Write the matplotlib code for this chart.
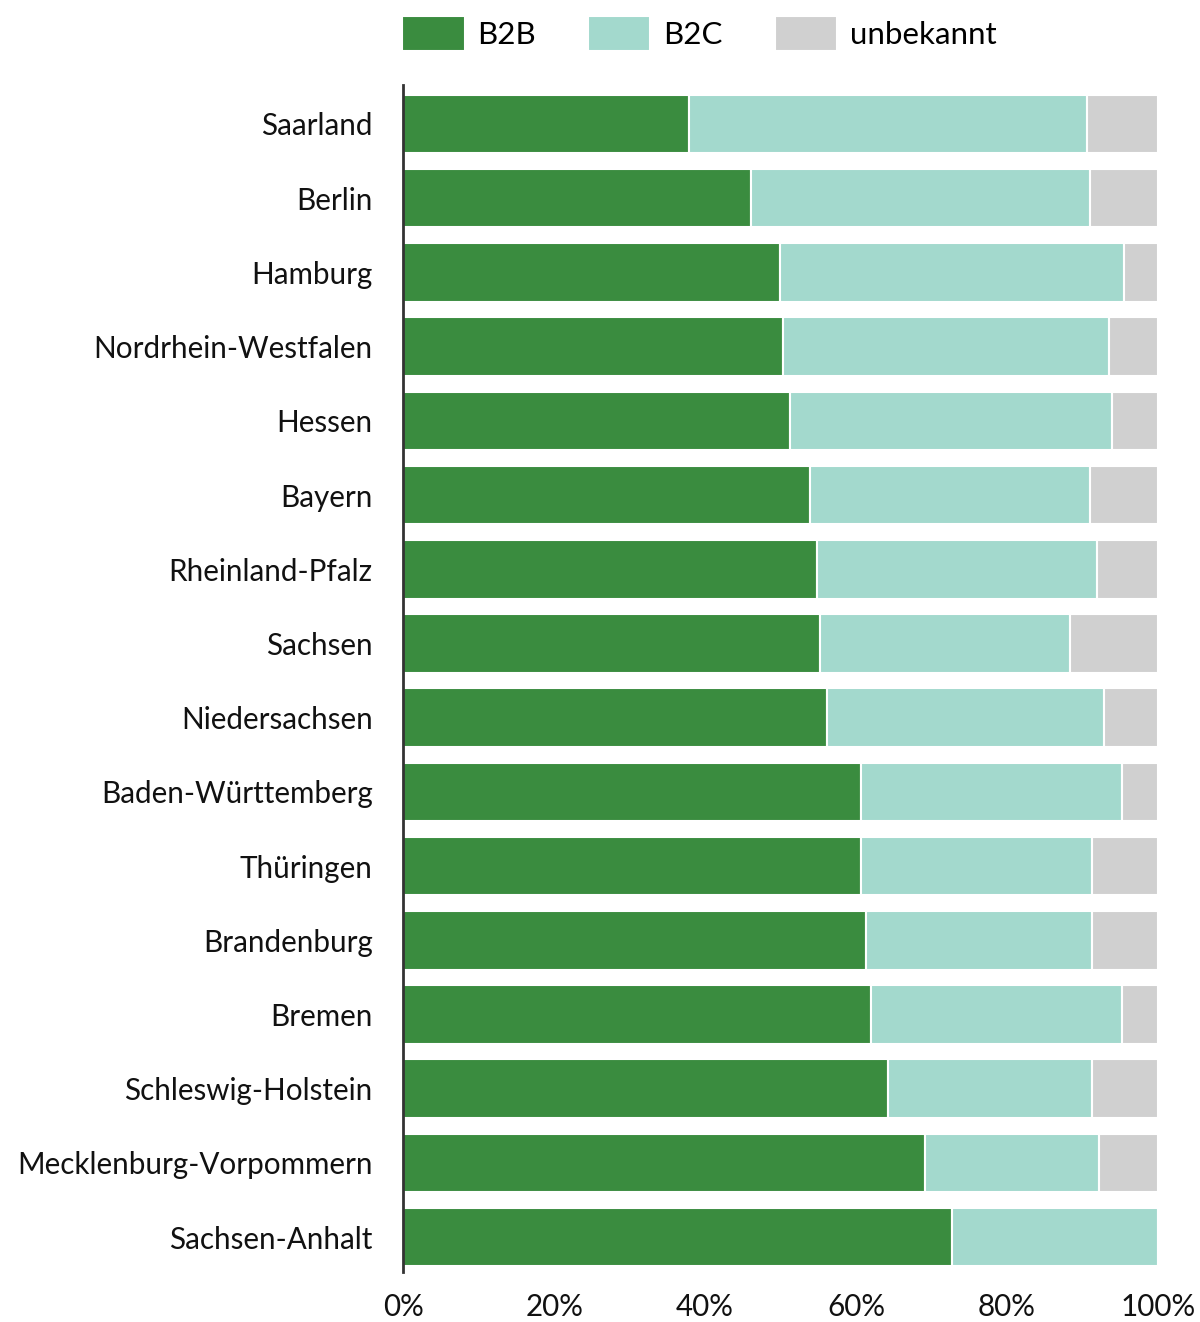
import matplotlib.pyplot as plt
import numpy as np
from matplotlib.ticker import PercentFormatter

plt.rcParams["font.family"] = ["Lato", "DejaVu Sans"]

# Anteil der Kunden je Bundesland (in %)
laender = [
    "Saarland", "Berlin", "Hamburg", "Nordrhein-Westfalen", "Hessen",
    "Bayern", "Rheinland-Pfalz", "Sachsen", "Niedersachsen",
    "Baden-Württemberg", "Thüringen", "Brandenburg", "Bremen",
    "Schleswig-Holstein", "Mecklenburg-Vorpommern", "Sachsen-Anhalt",
]
b2b = np.array([37.9, 46.1, 49.9, 50.3, 51.3, 53.9, 54.8, 55.2, 56.2,
                60.7, 60.7, 61.3, 62.0, 64.2, 69.1, 72.7])
b2c = np.array([52.7, 44.9, 45.6, 43.2, 42.6, 37.1, 37.1, 33.1, 36.6,
                34.5, 30.6, 30.0, 33.2, 27.1, 23.1, 27.3])
unbekannt = 100 - b2b - b2c

fig = plt.figure(figsize=(12, 13.22), dpi=100)
ax = fig.add_axes([0.336, 0.0378, 0.629, 0.8979])

y = np.arange(len(laender))
h = 0.79
kw = dict(height=h, edgecolor="white", linewidth=1.5)
ax.barh(y, b2b, color="#3a8c3f", label="B2B", **kw)
ax.barh(y, b2c, left=b2b, color="#a3d9cd", label="B2C", **kw)
ax.barh(y, unbekannt, left=b2b + b2c, color="#d0d0d0", label="unbekannt", **kw)

ax.set_xlim(0, 100)
ax.set_ylim(15.47, -0.525)
ax.set_yticks(y)
ax.set_yticklabels(laender, fontsize=21.3, color="#111111")
ax.set_xticks([0, 20, 40, 60, 80, 100])
ax.xaxis.set_major_formatter(PercentFormatter(decimals=0))
ax.tick_params(axis="y", length=0, pad=22)
ax.tick_params(axis="x", length=0, pad=15, labelsize=21.3, labelcolor="#111111")

for side in ["top", "right", "bottom"]:
    ax.spines[side].set_visible(False)
ax.spines["left"].set_color("#333333")
ax.spines["left"].set_linewidth(2)

fig.legend(loc="upper left", bbox_to_anchor=(0.335, 0.988), ncol=3,
           frameon=False, fontsize=22.5, handlelength=2.0, handleheight=1.35,
           handletextpad=0.42, columnspacing=1.65, borderpad=0,
           borderaxespad=0)

fig.savefig("out.png", dpi=100)
